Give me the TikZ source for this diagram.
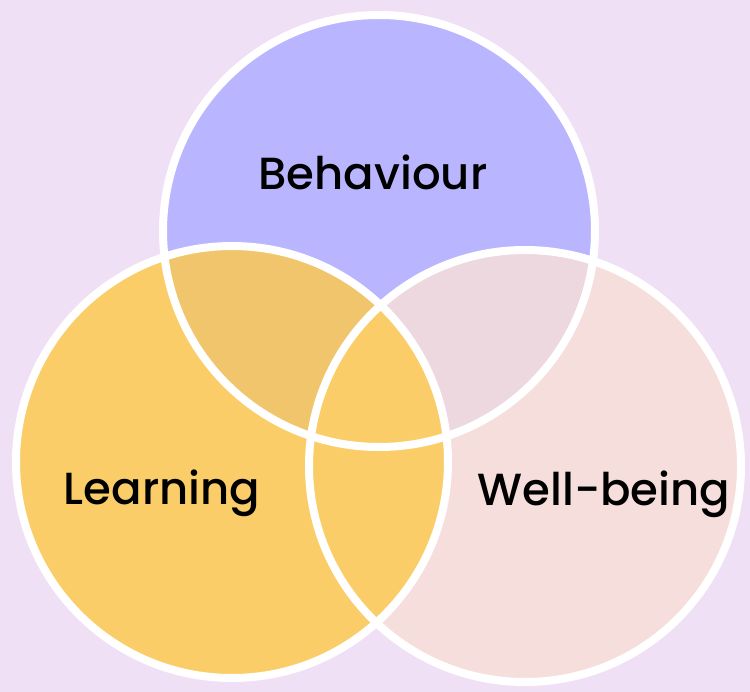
\documentclass[tikz,border=0pt]{standalone}
\usepackage{fontspec}
\setmainfont{Poppins}[UprightFont=* Medium]
\usetikzlibrary{positioning}
\definecolor{bgpurple}{RGB}{239,224,245}
\definecolor{behblue}{RGB}{186,181,255}
\definecolor{learnyellow}{RGB}{251,205,104}
\definecolor{wellpink}{RGB}{245,222,219}
\definecolor{blyellow}{RGB}{241,197,107}
\definecolor{bwpink}{RGB}{236,216,222}

\begin{document}
\begin{tikzpicture}[
  x=1pt,y=-1pt,
  font=\fontsize{45}{50}\selectfont,
  label/.style={inner sep=0pt,text=black},
  rim/.style={draw=white,line width=8pt}
]
\fill[bgpurple] (0,0) rectangle (750,692);
\useasboundingbox (0,0) rectangle (750,692);
\coordinate (beh) at (379,231);
\coordinate (learn) at (232,462);
\coordinate (well) at (525,466);
\def\rad{216}
% sets
\fill[wellpink] (well) circle (\rad);
\fill[behblue] (beh) circle (\rad);
\begin{scope}
  \clip (beh) circle (\rad);
  \fill[bwpink] (well) circle (\rad);
\end{scope}
\fill[learnyellow] (learn) circle (\rad);
\begin{scope}
  \clip (beh) circle (\rad);
  \fill[blyellow] (learn) circle (\rad);
\end{scope}
\begin{scope}
  \clip (well) circle (\rad);
  \fill[learnyellow] (learn) circle (\rad);
\end{scope}
% rims
\draw[rim] (beh) circle (\rad);
\draw[rim] (learn) circle (\rad);
\draw[rim] (well) circle (\rad);
\node[label] (behtxt) at (373,172) {Behaviour};
\node[label] (learntxt) at (162,493) {Learning};
\node[label] (welltxt) at (604,494) {Well-being};
\end{tikzpicture}
\end{document}
